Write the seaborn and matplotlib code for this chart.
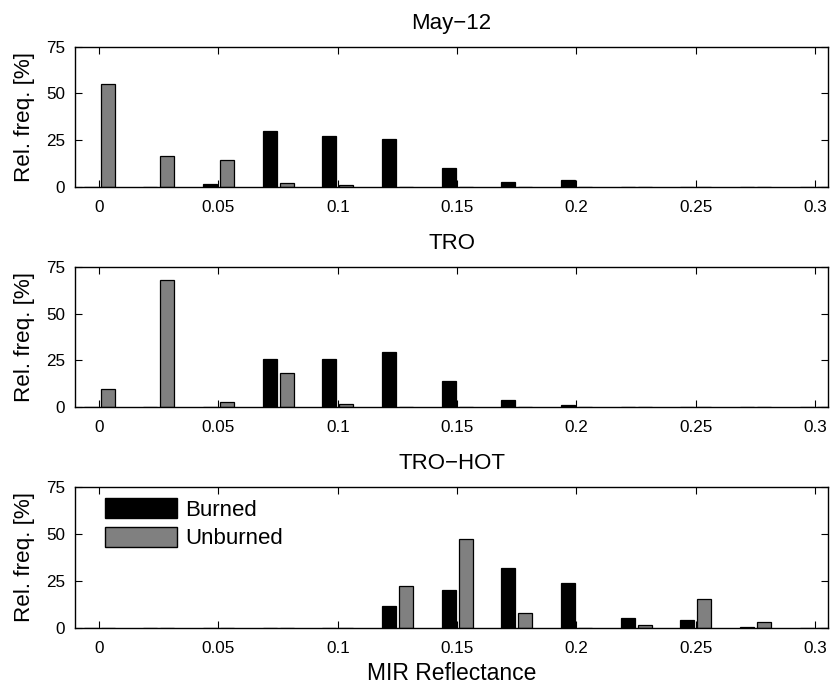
import numpy as np
import pandas as pd
import matplotlib
matplotlib.use("Agg")
import matplotlib.pyplot as plt
import seaborn as sns

sns.set_style("white")
plt.rcParams['font.family'] = ['Liberation Sans', 'DejaVu Sans']
plt.rcParams['text.color'] = 'black'
plt.rcParams['axes.labelcolor'] = 'black'
plt.rcParams['xtick.color'] = 'black'
plt.rcParams['ytick.color'] = 'black'

bins = [0.0, 0.025, 0.05, 0.075, 0.1, 0.125, 0.15, 0.175, 0.2, 0.225, 0.25, 0.275, 0.3]

may12_burned   = [0, 0, 1.6, 30.1, 27.1, 25.7, 9.9, 2.5, 3.7, 0, 0, 0, 0]
may12_unburned = [55.0, 16.5, 14.2, 2.0, 1.0, 0, 0, 0, 0, 0, 0, 0, 0]
tro_burned     = [0, 0, 0, 25.9, 25.9, 29.3, 14.2, 3.9, 1.4, 0, 0, 0, 0]
tro_unburned   = [9.6, 67.8, 2.8, 18.3, 1.6, 0, 0, 0, 0, 0, 0, 0, 0]
hot_burned     = [0, 0, 0, 0, 0, 11.7, 20.1, 32.1, 23.8, 5.7, 4.4, 0.5, 0]
hot_unburned   = [0, 0, 0, 0, 0, 22.2, 47.1, 8.2, 0, 1.8, 15.5, 3.4, 0.3]

titles = ["May\u221212", "TRO", "TRO\u2212HOT"]
series = [(may12_burned, may12_unburned), (tro_burned, tro_unburned), (hot_burned, hot_unburned)]
xticks = [0, 0.05, 0.1, 0.15, 0.2, 0.25, 0.3]
xticklabels = ["0", "0.05", "0.1", "0.15", "0.2", "0.25", "0.3"]
yticks = [0, 25, 50, 75]

fig = plt.figure(figsize=(8.3, 6.88), dpi=100)
W, H = 830, 688
left, right = 75, 828
panels = [(46.7, 186.7), (266.7, 407.3), (486.7, 628.3)]

palette = {"Burned": "black", "Unburned": "#808080"}

for i, ((top, bot), title, (b, u)) in enumerate(zip(panels, titles, series)):
    ax = fig.add_axes([left / W, 1 - bot / H, (right - left) / W, (bot - top) / H])
    df = pd.DataFrame({
        "x": bins * 2,
        "freq": list(b) + list(u),
        "class": ["Burned"] * len(bins) + ["Unburned"] * len(bins),
    })
    sns.barplot(data=df, x="x", y="freq", hue="class", native_scale=True,
                palette=palette, saturation=1, width=0.57, gap=0.17,
                edgecolor="black", linewidth=0.9, ax=ax, legend=(i == 2),
                errorbar=None)
    ax.set_xlim(-0.0101, 0.3054)
    ax.set_ylim(0, 75)
    ax.set_xticks(xticks)
    ax.set_xticklabels(xticklabels, fontsize=12.3)
    ax.set_yticks(yticks)
    ax.set_yticklabels([str(t) for t in yticks], fontsize=12.3)
    ax.tick_params(direction="in", length=5, width=0.8, top=True, right=True,
                   bottom=True, left=True, colors="black")
    ax.tick_params(axis="x", pad=9.5)
    ax.tick_params(axis="y", pad=7)
    for sp in ax.spines.values():
        sp.set_visible(True)
        sp.set_color("black")
        sp.set_linewidth(1.0)
    ax.set_title(title, fontsize=16, pad=12.5)
    ax.set_ylabel("Rel. freq. [%]", fontsize=16.2, labelpad=8)
    if i == 2:
        ax.set_xlabel("MIR Reflectance", fontsize=16.5, labelpad=4)
        leg = ax.legend(loc="upper left", frameon=False, fontsize=16,
                        handlelength=3.25, handleheight=1.04, handletextpad=0.36,
                        labelspacing=0.27, borderaxespad=0, borderpad=0,
                        bbox_to_anchor=(30 / (right - left), 1 - 11 / (bot - top)))
        for h in leg.get_patches():
            h.set_edgecolor("black")
            h.set_linewidth(1.0)
    else:
        ax.set_xlabel("")

fig.savefig("out.png", dpi=100)
